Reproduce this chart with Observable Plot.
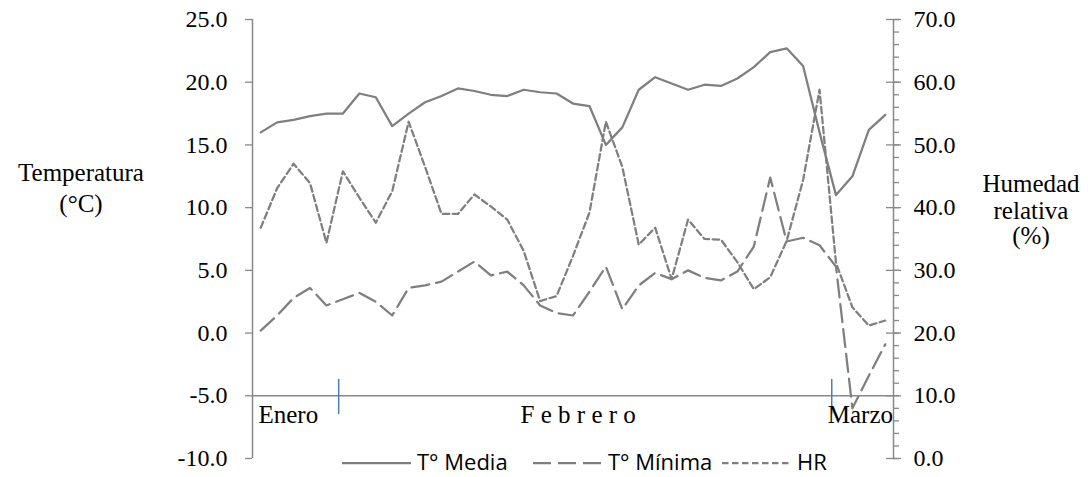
<!DOCTYPE html>
<html><head><meta charset="utf-8">
<script src="https://cdn.jsdelivr.net/npm/d3@7"></script>
<script src="https://cdn.jsdelivr.net/npm/@observablehq/plot@0.6"></script>
<style>html,body{margin:0;padding:0;background:#fff;} #chart{position:relative;width:1088px;height:477px;}</style>
</head><body><div id="chart"></div>
<script>
// Day index (category) 0..38
const dayIndex = [0,1,2,3,4,5,6,7,8,9,10,11,12,13,14,15,16,17,18,19,20,21,22,23,24,25,26,27,28,29,30,31,32,33,34,35,36,37,38];
const tMedia = [16.0,16.8,17.0,17.3,17.5,17.5,19.1,18.8,16.5,17.5,18.4,18.9,19.5,19.3,19.0,18.9,19.4,19.2,19.1,18.3,18.1,15.0,16.4,19.4,20.4,19.9,19.4,19.8,19.7,20.3,21.2,22.4,22.7,21.3,16.0,11.0,12.5,16.2,17.4];
const tMinima = [0.2,1.4,2.8,3.6,2.2,2.7,3.2,2.5,1.4,3.6,3.8,4.1,4.9,5.7,4.6,4.9,3.8,2.2,1.6,1.4,3.3,5.3,1.9,3.8,4.8,4.3,5.0,4.4,4.2,4.9,6.9,12.4,7.3,7.6,7.0,5.3,-6.0,-3.4,-0.9];
const hr = [36.8,43.1,47.0,43.9,34.4,45.8,41.6,37.6,42.6,53.7,46.5,39.0,39.0,42.1,40.2,38.1,33.1,25.1,25.9,32.3,39.2,53.7,46.5,34.1,36.8,28.6,38.1,35.0,34.9,31.3,27.0,28.9,34.7,44.4,58.8,31.2,24.1,21.2,22.0];
const months = ["Enero", "F e b r e r o", "Marzo"];
const monthStart = [0, 5, 35];      // first category index of each month
const monthEnd = [4, 34, 38];       // last category index of each month
const tempTicks = [-10, -5, 0, 5, 10, 15, 20, 25];
const hrTicks = [0, 10, 20, 30, 40, 50, 60, 70];
const seriesNames = ["T° Media", "T° Mínima", "HR"];

// secondary axis: HR 0..70 maps onto temperature -10..25
const hrToT = h => -10 + h * 35 / 70;
const hrMinor = d3.range(0, 71, 2);

const rows = dayIndex.map((d, i) => ({i: d, media: tMedia[i], minima: tMinima[i], hr: hr[i]}));
const GRAY = "#7f7f7f", AX = "#898989", BLUE = "#4a7ebb";
const W = 1088, H = 477, ML = 252, MR = 195;
const FW = W - ML - MR;
const serif = "'Liberation Serif','Times New Roman',serif";

const plot = Plot.plot({
  width: W, height: H,
  marginLeft: ML, marginRight: MR, marginTop: 19, marginBottom: 19,
  style: {fontFamily: serif, fontSize: "24px", color: "black", background: "white", overflow: "visible"},
  x: {domain: [-0.5, 38.5], axis: null},
  y: {domain: [-10, 25]},
  marks: [
    // axis lines
    Plot.ruleY([-5], {stroke: AX, strokeWidth: 1.5}),
    Plot.ruleX([-0.5], {y1: -10, y2: 25, stroke: AX, strokeWidth: 1.5}),
    Plot.ruleX([38.5], {y1: -10, y2: 25, stroke: AX, strokeWidth: 1.5}),
    // left ticks
    Plot.tickY(tempTicks, {y: d => d, stroke: AX, strokeWidth: 1.3, insetLeft: -7, insetRight: FW}),
    // right ticks: minor then major
    Plot.tickY(hrMinor, {y: d => hrToT(d), stroke: AX, strokeWidth: 1.3, insetLeft: FW, insetRight: -6}),
    Plot.tickY(hrTicks, {y: d => hrToT(d), stroke: AX, strokeWidth: 1.3, insetLeft: FW - 7, insetRight: -8}),
    Plot.axisY({anchor: "left", ticks: tempTicks, tickSize: 0, tickPadding: 25, label: null, tickFormat: d => d.toFixed(1), fontSize: 24}),
    Plot.axisY({anchor: "right", ticks: hrTicks.map(hrToT), tickSize: 0, tickPadding: 20, label: null, tickFormat: t => ((t + 10) * 2).toFixed(1), fontSize: 24}),
    // month separators
    Plot.ruleX(monthStart.slice(1), {x: d => d - 0.5, y1: -3.7, y2: -6.5, dx: 4, stroke: BLUE, strokeWidth: 1.5}),
    // month labels
    Plot.text([months[0]], {x: monthStart[0] - 0.5, y: -5, text: d => d, textAnchor: "start", dx: 6, dy: 19, fontSize: 25, fill: "black"}),
    Plot.text([months[1]], {x: (monthStart[1] + monthEnd[1]) / 2, y: -5, text: d => d, textAnchor: "middle", dx: -3, dy: 19, fontSize: 25, fill: "black", letterSpacing: "3.5px"}),
    Plot.text([months[2]], {x: monthStart[2] - 0.5, y: -5, text: d => d, textAnchor: "start", dx: 0, dy: 19, fontSize: 25, fill: "black"}),
    // series
    Plot.line(rows, {x: "i", y: "media", stroke: GRAY, strokeWidth: 2.25}),
    Plot.line(rows, {x: "i", y: "minima", stroke: GRAY, strokeWidth: 2.25, strokeDasharray: "18,7"}),
    Plot.line(rows, {x: "i", y: d => hrToT(d.hr), stroke: GRAY, strokeWidth: 2.25, strokeDasharray: "6.5,3.5"})
  ]
});
document.getElementById("chart").appendChild(plot);

const svg = d3.select(plot);
// axis titles
const lt = svg.append("text").attr("font-family", serif).attr("font-size", 25).attr("text-anchor", "middle").attr("fill", "black");
lt.append("tspan").attr("x", 81).attr("y", 181).text("Temperatura");
lt.append("tspan").attr("x", 81).attr("y", 212).text("(°C)");
const rt = svg.append("text").attr("font-family", serif).attr("font-size", 25).attr("text-anchor", "middle").attr("fill", "black");
rt.append("tspan").attr("x", 1031).attr("y", 192).text("Humedad");
rt.append("tspan").attr("x", 1031).attr("y", 219).text("relativa");
rt.append("tspan").attr("x", 1031).attr("y", 244).text("(%)");

// legend
const dashes = [null, "18,7", "6.5,3.5"];
const lx = [342, 533, 722];
const lg = svg.append("g");
seriesNames.forEach((name, i) => {
  lg.append("line").attr("x1", lx[i]).attr("x2", lx[i] + 69).attr("y1", 463).attr("y2", 463)
    .attr("stroke", GRAY).attr("stroke-width", 2.25).attr("stroke-dasharray", dashes[i]);
  lg.append("text").attr("x", lx[i] + 75).attr("y", 470).attr("text-anchor", "start")
    .attr("font-family", "'Open Sans','Noto Sans',sans-serif")
    .attr("font-size", 22).attr("fill", "black").text(name);
});
</script>
</body></html>
